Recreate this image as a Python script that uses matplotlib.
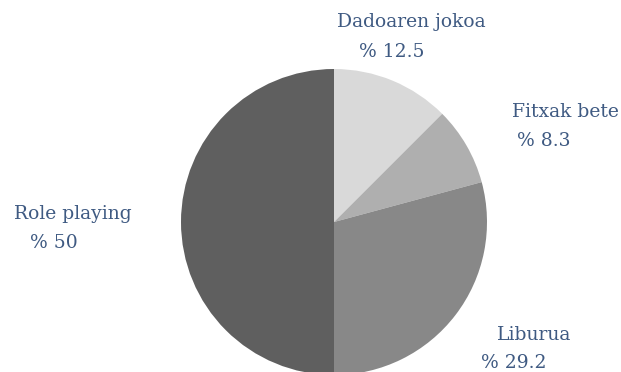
import matplotlib
matplotlib.use("Agg")
import matplotlib.pyplot as plt

categories = ["Dadoaren jokoa", "Fitxak bete", "Liburua", "Role playing"]
values = [12.5, 8.3, 29.2, 50]
value_labels = ["% 12.5", "% 8.3", "% 29.2", "% 50"]
colors = ["#d9d9d9", "#afafaf", "#888888", "#5f5f5f"]

W, H = 621, 372
cx, cy, R = 334, 222, 153

fig = plt.figure(figsize=(W / 100, H / 100), dpi=100)
ax = fig.add_axes([(cx - R) / W, 1 - (cy + R) / H, 2 * R / W, 2 * R / H])
ax.pie(values, colors=colors, startangle=90, counterclock=False, radius=1,
       wedgeprops=dict(linewidth=0))
ax.set_xlim(-1, 1)
ax.set_ylim(-1, 1)
ax.set_aspect("equal")
ax.axis("off")

def d(px, py):
    return (px - cx) / R, (cy - py) / R

txt_color = "#3f5a82"
font = dict(family="DejaVu Serif", fontsize=13.5, color=txt_color)
# (name left x, name center y, value left x, value center y) in pixels
label_pos = [
    (337, 22, 359, 52),
    (512, 112, 517, 141),
    (497, 335, 481, 363),
    (14, 214, 30, 243),
]
for name, val, (nx, ny, vx, vy) in zip(categories, value_labels, label_pos):
    x, y = d(nx, ny)
    ax.text(x, y, name, ha="left", va="center", clip_on=False, **font)
    x, y = d(vx, vy)
    ax.text(x, y, val, ha="left", va="center", clip_on=False, **font)

fig.savefig("out.png", dpi=100)
